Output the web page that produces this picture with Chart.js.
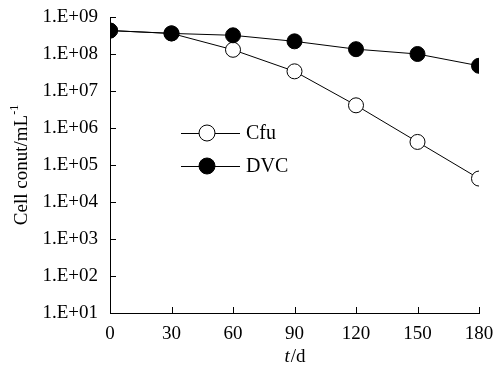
<!DOCTYPE html>
<html>
<head>
<meta charset="utf-8">
<script src="https://cdn.jsdelivr.net/npm/chart.js@4/dist/chart.umd.min.js"></script>
<style>
html,body{margin:0;padding:0;background:#fff;}
#wrap{width:496px;height:367px;position:relative;}
</style>
</head>
<body>
<div id="wrap"><canvas id="c" width="496" height="367"></canvas></div>
<script>
const days = [0, 30, 60, 90, 120, 150, 180];
const cfu = [4.3e8, 3.6e8, 1.3e8, 3.4e7, 4.1e6, 4.2e5, 4.3e4];
const dvc = [4.3e8, 3.6e8, 3.2e8, 2.2e8, 1.35e8, 1.0e8, 4.8e7];
const yTicks = [1e1, 1e2, 1e3, 1e4, 1e5, 1e6, 1e7, 1e8, 1e9];
const xTicks = [0, 30, 60, 90, 120, 150, 180];
const seriesNames = ['Cfu', 'DVC'];
const yTitle = 'Cell conut/mL';
const ySup = '-1';
const xTitleItalic = 't';
const xTitleRest = '/d';

const FONT = '"Liberation Serif", "Times New Roman", serif';

function fmtExp(v){
  const e = Math.round(Math.log10(v));
  return '1.E+' + (e < 10 ? '0' + e : e);
}

const decor = {
  id: 'decor',
  afterDraw(chart){
    const ctx = chart.ctx;
    const ca = chart.chartArea;
    const xs = chart.scales.x, ys = chart.scales.y;
    ctx.save();
    ctx.strokeStyle = '#000';
    ctx.lineWidth = 1;
    ctx.beginPath();
    yTicks.forEach(v => {
      const y = Math.round(ys.getPixelForValue(v)) + 0.5;
      ctx.moveTo(ca.left, y); ctx.lineTo(ca.left + 6, y);
    });
    xTicks.forEach(v => {
      const x = Math.round(xs.getPixelForValue(v)) + 0.5;
      ctx.moveTo(x, ca.bottom); ctx.lineTo(x, ca.bottom - 6);
    });
    ctx.stroke();

    const legendRows = [
      {name: seriesNames[0], fill: '#fff', y: 133},
      {name: seriesNames[1], fill: '#000', y: 166}
    ];
    legendRows.forEach(r => {
      ctx.beginPath();
      ctx.moveTo(181, r.y + 0.5); ctx.lineTo(240, r.y + 0.5);
      ctx.stroke();
      ctx.beginPath();
      ctx.arc(207, r.y, 8, 0, Math.PI * 2);
      ctx.fillStyle = r.fill; ctx.fill(); ctx.stroke();
      ctx.fillStyle = '#000';
      ctx.font = '20px ' + FONT;
      ctx.textBaseline = 'middle';
      ctx.textAlign = 'left';
      ctx.fillText(r.name, 246, r.y + 1);
    });

    ctx.font = 'italic 19px ' + FONT;
    const w1 = ctx.measureText(xTitleItalic).width;
    ctx.font = '19px ' + FONT;
    const w2 = ctx.measureText(xTitleRest).width;
    const cx = (ca.left + ca.right) / 2;
    let sx = cx - (w1 + w2) / 2;
    ctx.textBaseline = 'middle';
    ctx.textAlign = 'left';
    ctx.font = 'italic 19px ' + FONT;
    ctx.fillText(xTitleItalic, sx, 357);
    ctx.font = '19px ' + FONT;
    ctx.fillText(xTitleRest, sx + w1 + 1, 357);

    ctx.translate(22, (ca.top + ca.bottom) / 2);
    ctx.rotate(-Math.PI / 2);
    ctx.font = '19px ' + FONT;
    const tw = ctx.measureText(yTitle).width;
    ctx.font = '12px ' + FONT;
    const sw = ctx.measureText(ySup).width;
    let start = -(tw + sw) / 2;
    ctx.font = '19px ' + FONT;
    ctx.fillText(yTitle, start, 0);
    ctx.font = '12px ' + FONT;
    ctx.fillText(ySup, start + tw, -7);
    ctx.restore();
  }
};

new Chart(document.getElementById('c'), {
  type: 'line',
  data: {
    labels: days,
    datasets: [
      {
        label: seriesNames[0],
        order: 1,
        data: days.map((d, i) => ({x: d, y: cfu[i]})),
        borderColor: '#000', borderWidth: 1,
        pointBackgroundColor: '#fff', pointBorderColor: '#000', pointBorderWidth: 1,
        pointRadius: 7.5, tension: 0
      },
      {
        label: seriesNames[1],
        order: 0,
        data: days.map((d, i) => ({x: d, y: dvc[i]})),
        borderColor: '#000', borderWidth: 1,
        pointBackgroundColor: '#000', pointBorderColor: '#000', pointBorderWidth: 1,
        pointRadius: 7.5, tension: 0
      }
    ]
  },
  options: {
    responsive: false,
    animation: false,
    devicePixelRatio: 1,
    layout: {padding: {top: 17, right: 17, left: 0, bottom: 0}},
    plugins: {legend: {display: false}, tooltip: {enabled: false}},
    scales: {
      x: {
        type: 'linear', min: 0, max: 180,
        afterBuildTicks: s => { s.ticks = xTicks.map(v => ({value: v})); },
        afterFit: s => { s.height = 54; },
        grid: {display: false, drawTicks: true, tickLength: 10, tickColor: 'rgba(0,0,0,0)'},
        border: {display: true, color: '#000', width: 1},
        ticks: {color: '#000', padding: 0, maxRotation: 0, font: {family: FONT, size: 19}}
      },
      y: {
        type: 'logarithmic', min: 10, max: 1e9,
        afterBuildTicks: s => { s.ticks = yTicks.map(v => ({value: v})); },
        afterFit: s => { s.width = 110; },
        grid: {display: false, drawTicks: true, tickLength: 12, tickColor: 'rgba(0,0,0,0)'},
        border: {display: true, color: '#000', width: 1},
        ticks: {color: '#000', padding: 0, callback: v => fmtExp(v), font: {family: FONT, size: 19}}
      }
    }
  },
  plugins: [decor]
});
</script>
</body>
</html>
